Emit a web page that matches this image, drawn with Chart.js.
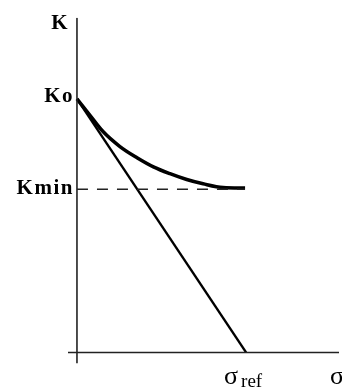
<!DOCTYPE html>
<html>
<head>
<meta charset="utf-8">
<script src="https://cdn.jsdelivr.net/npm/chart.js@4/dist/chart.umd.min.js"></script>
<style>
  html, body { margin: 0; padding: 0; background: #fff; }
  #wrap { width: 342px; height: 391px; }
</style>
</head>
<body>
<div id="wrap"><canvas id="kGraph" width="342" height="391"></canvas></div>
<script>
// sigma normalised to sigma_ref = 1, K normalised to K0 = 1
var K0 = 1;
var KMIN = 0.644;
var SIGMA_REF = 1;

// K(sigma) curve, flattening towards Kmin
var curveSigma = [0, 0.077, 0.154, 0.254, 0.355, 0.452, 0.550, 0.649, 0.746, 0.864, 0.994];
var curveK     = [1, 0.935, 0.871, 0.812, 0.768, 0.732, 0.705, 0.682, 0.665, 0.650, 0.648];

// straight line K0 -> sigma_ref
var lineSigma = [0, SIGMA_REF];
var lineK     = [K0, 0];

// axis extents
var xAxisRange = [-0.053, 1.55];
var yAxisRange = [-0.044, 1.32];

function pts(xs, ys) {
  return xs.map(function (x, i) { return { x: x, y: ys[i] }; });
}

var labelPlugin = {
  id: 'labels',
  afterDatasetsDraw: function (chart) {
    var c = chart.ctx;
    var sx = chart.scales.x, sy = chart.scales.y;
    var x0 = sx.getPixelForValue(0);
    c.save();
    c.fillStyle = '#000';
    c.textBaseline = 'alphabetic';
    c.textAlign = 'right';
    c.font = 'bold 21px "Liberation Serif", serif';
    c.letterSpacing = '1.5px';
    c.fillText('K', x0 - 8, sy.getPixelForValue(yAxisRange[1]) + 11);
    c.fillText('Ko', x0 - 3, sy.getPixelForValue(K0) + 3);
    c.fillText('Kmin', x0 - 3, sy.getPixelForValue(KMIN) + 5);

    c.letterSpacing = '0px';
    c.textAlign = 'left';
    var xr = sx.getPixelForValue(SIGMA_REF);
    c.font = '26px "Liberation Serif", serif';
    c.fillText('σ', xr - 22, 384);
    c.font = '19px "Liberation Serif", serif';
    c.fillText('ref', xr - 5, 387);
    c.font = '26px "Liberation Serif", serif';
    c.fillText('σ', 330, 384);
    c.restore();
  }
};

new Chart(document.getElementById('kGraph'), {
  type: 'scatter',
  data: {
    datasets: [
      { // y axis
        data: pts([0, 0], yAxisRange),
        showLine: true, borderColor: '#222', borderWidth: 1.6, pointRadius: 0
      },
      { // x axis
        data: pts(xAxisRange, [0, 0]),
        showLine: true, borderColor: '#222', borderWidth: 1.6, pointRadius: 0
      },
      { // Kmin level
        data: pts([0, curveSigma[curveSigma.length - 1]], [KMIN, KMIN]),
        showLine: true, borderColor: '#222', borderWidth: 1.5, borderDash: [11, 9], pointRadius: 0
      },
      {
        data: pts(lineSigma, lineK),
        showLine: true, borderColor: '#000', borderWidth: 2.4, pointRadius: 0
      },
      {
        data: pts(curveSigma, curveK),
        showLine: true, borderColor: '#000', borderWidth: 3.5, pointRadius: 0,
        cubicInterpolationMode: 'monotone'
      }
    ]
  },
  options: {
    responsive: false,
    animation: false,
    layout: { padding: { left: 68.0, right: 2.9, top: 17.7, bottom: 27.4 } },
    plugins: { legend: { display: false }, tooltip: { enabled: false } },
    scales: {
      x: { type: 'linear', display: false, min: xAxisRange[0], max: xAxisRange[1] },
      y: { type: 'linear', display: false, min: yAxisRange[0], max: yAxisRange[1] }
    }
  },
  plugins: [labelPlugin]
});
</script>
</body>
</html>
